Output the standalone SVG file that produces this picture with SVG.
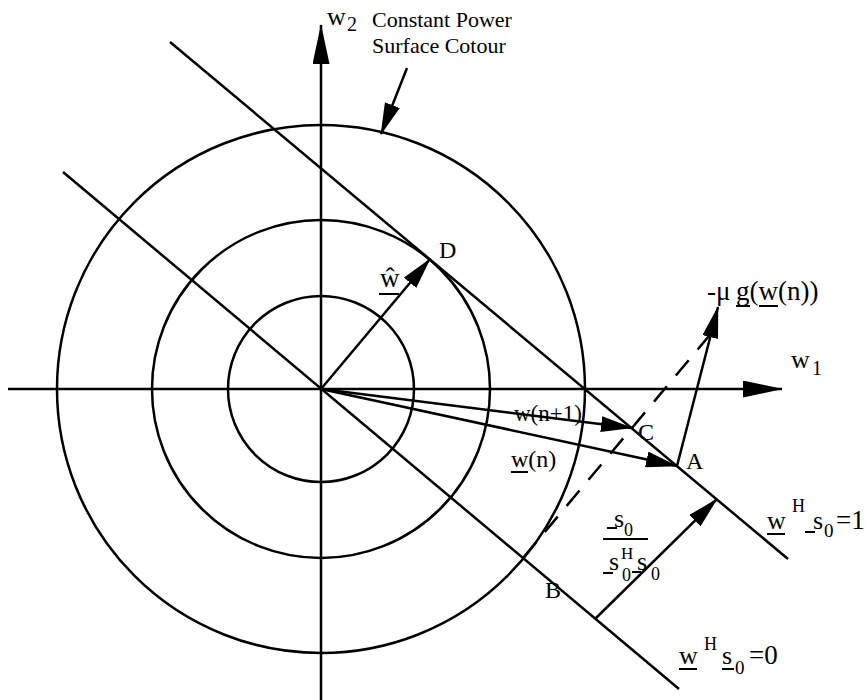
<svg xmlns="http://www.w3.org/2000/svg" width="867" height="700" viewBox="0 0 867 700">
<style>
.ln{stroke:#000;stroke-width:2.5;fill:none}
.ul{stroke:#000;stroke-width:2;fill:none}
.t{font-family:"Liberation Serif","Times New Roman",serif;fill:#000}
</style>
<defs>
<marker id="big" markerUnits="userSpaceOnUse" markerWidth="40" markerHeight="17" viewBox="0 0 40 17" refX="39" refY="8.5" orient="auto"><path d="M0,0 L40,8.5 L0,17 Z" fill="#000"/></marker>
<marker id="arr" markerUnits="userSpaceOnUse" markerWidth="32" markerHeight="16" viewBox="0 0 32 16" refX="31" refY="8" orient="auto"><path d="M0,0 L32,8 L0,16 Z" fill="#000"/></marker>
</defs>
<rect width="867" height="700" fill="#fff"/>
<g id="contours">
<circle class="ln" cx="321" cy="389" r="93"/>
<circle class="ln" cx="321" cy="389" r="169"/>
<circle class="ln" cx="321" cy="389" r="264"/>
</g>
<g id="connectors">
<path class="ln" d="M8,389 L782,389" marker-end="url(#big)"/>
<path class="ln" d="M321,700 L321,25" marker-end="url(#big)"/>
<path class="ln" d="M170,42 L788,559"/>
<path class="ln" d="M63,172 L679,689"/>
<path class="ln" d="M321,389 L430,259" marker-end="url(#arr)"/>
<path class="ln" d="M321,389 L632,428" marker-end="url(#arr)"/>
<path class="ln" d="M321,389 L677,466" marker-end="url(#arr)"/>
<path class="ln" d="M677,466 L718,307" marker-end="url(#arr)"/>
<path class="ln" d="M595,619 L717,499" marker-end="url(#arr)"/>
<path class="ln" d="M523,558 L714,330" stroke-dasharray="20 14"/>
<path class="ln" d="M407,68 L381,134" marker-end="url(#arr)"/>
</g>
<g id="labels">
<text class="t" x="327" y="25" font-size="26">w</text><text class="t" x="347" y="31" font-size="20">2</text>
<text class="t" x="372" y="27" font-size="22">Constant Power</text>
<text class="t" x="372" y="53" font-size="22">Surface Cotour</text>
<text class="t" x="791" y="368" font-size="26">w</text><text class="t" x="812" y="375" font-size="20">1</text>
<text class="t" x="439" y="258" font-size="24">D</text>
<text class="t" x="380" y="287" font-size="27">ŵ</text><line class="ul" x1="379" y1="294" x2="399" y2="294"/>
<text class="t" x="707" y="300" font-size="27">-μ</text>
<text class="t" x="736" y="300" font-size="27">g(w(n))</text><line class="ul" x1="736" y1="306" x2="750" y2="306"/><line class="ul" x1="759" y1="306" x2="778" y2="306"/>
<text class="t" x="514" y="421" font-size="23">w(n+1)</text>
<text class="t" x="511" y="467" font-size="24">w(n)</text><line class="ul" x1="511" y1="472" x2="528" y2="472"/>
<text class="t" x="638" y="440" font-size="24">C</text>
<text class="t" x="686" y="469" font-size="24">A</text>
<text class="t" x="545" y="598" font-size="24">B</text>
<g id="fraction">
<text class="t" x="614" y="527" font-size="26">s</text><text class="t" x="624" y="536" font-size="18">0</text><line class="ul" x1="607" y1="528" x2="617" y2="528"/>
<line class="ul" x1="603" y1="539" x2="648" y2="539"/>
<text class="t" x="609" y="570" font-size="26">s</text><text class="t" x="621" y="559" font-size="17">H</text><text class="t" x="622" y="581" font-size="18">0</text><line class="ul" x1="603" y1="573" x2="613" y2="573"/>
<text class="t" x="637" y="570" font-size="26">s</text><text class="t" x="651" y="580" font-size="18">0</text><line class="ul" x1="632" y1="572" x2="641" y2="572"/>
</g>
<g id="eq1">
<text class="t" x="767" y="529" font-size="26">w</text><line class="ul" x1="767" y1="534" x2="785" y2="534"/>
<text class="t" x="792" y="512" font-size="18">H</text>
<text class="t" x="813" y="529" font-size="26">s</text><line class="ul" x1="805" y1="532" x2="815" y2="532"/>
<text class="t" x="824" y="537" font-size="19">0</text>
<text class="t" x="836" y="529" font-size="27">=1</text>
</g>
<g id="eq0">
<text class="t" x="679" y="664" font-size="26">w</text><line class="ul" x1="679" y1="669" x2="697" y2="669"/>
<text class="t" x="704" y="650" font-size="18">H</text>
<text class="t" x="722" y="664" font-size="26">s</text><line class="ul" x1="722" y1="669" x2="734" y2="669"/>
<text class="t" x="735" y="674" font-size="19">0</text>
<text class="t" x="749" y="664" font-size="27">=0</text>
</g>
</g>
</svg>
